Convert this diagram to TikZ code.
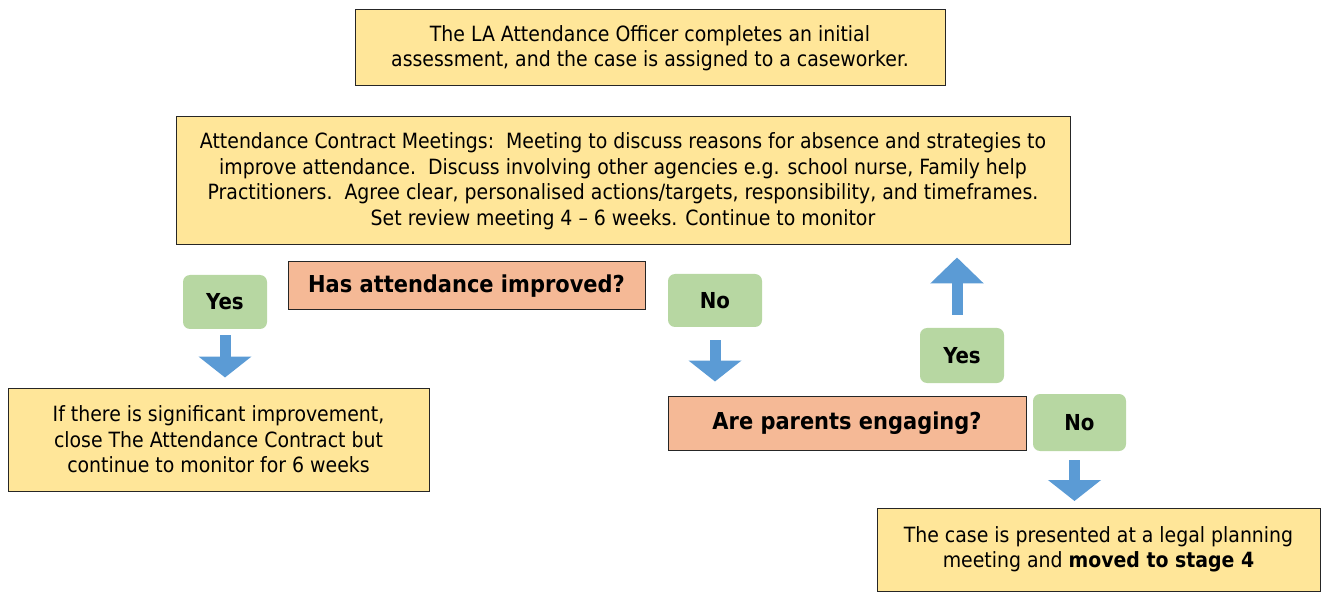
\documentclass[tikz,border=0pt]{standalone}
\usepackage{fontspec}
\setmainfont{DejaVu Sans Condensed}
\usepackage{tikz}
\usetikzlibrary{arrows.meta,positioning}
\definecolor{boxyellow}{RGB}{255,230,153}
\definecolor{boxsalmon}{RGB}{245,185,150}
\definecolor{boxgreen}{RGB}{183,215,162}
\definecolor{arrowblue}{RGB}{91,155,213}

\begin{document}
\begin{tikzpicture}[x=1pt,y=-1pt,
    infobox/.style={draw=black!85,line width=1pt,fill=boxyellow,align=center,
      inner sep=0pt,font=\fontsize{21}{25.5}\selectfont},
    askbox/.style={draw=black!85,line width=1pt,fill=boxsalmon,inner sep=0pt,
      font=\fontsize{23.3}{26}\selectfont\bfseries},
    answer/.style={fill=boxgreen,rounded corners=7pt,inner sep=0pt,
      font=\fontsize{22}{25}\selectfont\bfseries},
    bigarrow/.style={arrowblue,line width=11pt,-{Triangle[width=52pt,length=#1]}},
    bigarrow/.default=21pt]
  \useasboundingbox (0,0) rectangle (1327,593);

  \node[infobox,minimum width=590pt,minimum height=76pt] (officer) at (650,48)
       {The LA Attendance Officer completes an initial\\
        assessment, and the case is assigned to a caseworker.};
  \node[infobox,minimum width=894pt,minimum height=128pt] (meeting) at (623,181)
       {Attendance Contract Meetings:\ \ Meeting to discuss reasons for absence and strategies to\\
        improve attendance.\ \ Discuss involving other agencies e.g. school nurse, Family help\\
        Practitioners.\ \ Agree clear, personalised actions/targets, responsibility, and timeframes.\\
        Set review meeting 4 – 6 weeks. Continue to monitor};

  \node[askbox,minimum width=357pt,minimum height=48pt] (improved) at (466.5,286)
       {Has attendance improved?};
  \node[answer,minimum width=84pt,minimum height=54pt] (yesA) at (225,302) {Yes};
  \node[answer,minimum width=94pt,minimum height=53pt] (noA) at (715,300.5) {No};

  \node[infobox,minimum width=421pt,minimum height=103pt] (close) at (218.5,439.5)
       {If there is significant improvement,\\
        close The Attendance Contract but\\
        continue to monitor for 6 weeks};

  \node[askbox,minimum width=358pt,minimum height=54pt] (engaging) at (847,423)
       {Are parents engaging?};
  \node[answer,minimum width=84pt,minimum height=55pt] (yesB) at (962,355.5) {Yes};
  \node[answer,minimum width=93pt,minimum height=57pt] (noB) at (1079.5,422.5) {No};

  \node[infobox,minimum width=443pt,minimum height=83pt] (legal) at (1098.5,550)
       {\raisebox{7pt}{\begin{tabular}{@{}c@{}}
        The case is presented at a legal planning\\
        meeting and \textbf{moved to stage 4}\end{tabular}}};

  \draw[bigarrow,shorten <=6pt,shorten >=10pt] (yesA.south) -- (close.north -| yesA.south);
  \draw[bigarrow,shorten <=13pt,shorten >=14pt] (noA.south) -- (engaging.north -| noA.south);
  \draw[bigarrow=26pt,shorten <=13pt,shorten >=12pt]
       ([xshift=-5pt]yesB.north) -- ([xshift=-5pt]meeting.south -| yesB.north);
  \draw[bigarrow,shorten <=9pt,shorten >=7pt]
       ([xshift=-5pt]noB.south) -- ([xshift=-5pt]legal.north -| noB.south);
\end{tikzpicture}
\end{document}
